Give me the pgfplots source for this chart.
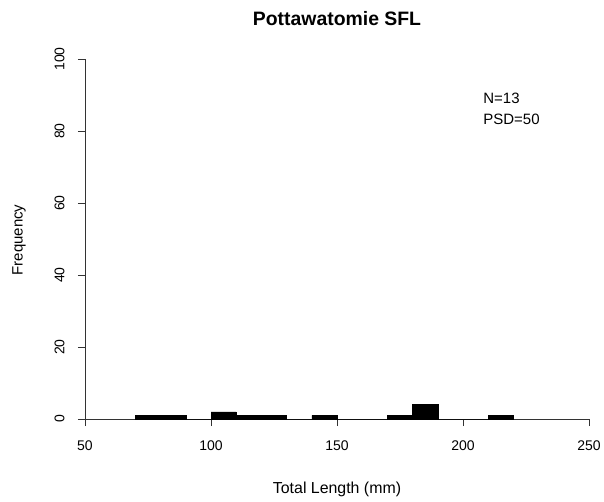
\documentclass[border=0pt]{standalone}
\usepackage{pgfplots}
\pgfplotsset{compat=1.18}
\usepackage{fontspec}
\setmainfont{Liberation Sans}
\begin{document}
\begin{tikzpicture}[x=1pt,y=1pt]
\useasboundingbox (0,0) rectangle (604,501);
\begin{axis}[
  at={(85pt,82pt)}, anchor=origin,
  scale only axis, width=504pt, height=360pt,
  xmin=50, xmax=250, ymin=0, ymax=100,
  axis x line*=bottom, axis y line*=left,
  axis line style={-, black!80, line width=0.9pt},
  xtick={50,100,...,250}, ytick={0,20,...,100},
  tick align=outside, major tick length=7pt,
  tick style={black!80, line width=0.9pt},
  /pgf/number format/assume math mode=true,
  ticklabel style={font=\fontsize{14}{16}\selectfont},
  yticklabel style={rotate=90, anchor=south, yshift=10pt},
  xticklabel style={yshift=-11pt},
  clip=false,
]
\addplot[ybar interval, fill=black, draw=black, line width=0.6pt] coordinates {
 (70,1) (80,1) (90,0) (100,2) (110,1) (120,1) (130,0) (140,1) (150,0)
 (160,0) (170,1) (180,4) (190,0) (200,0) (210,1) (220,0)};
\node[anchor=base west, font=\fontsize{15}{18}\selectfont, inner sep=0pt] at (axis cs:208,87.5) {N=13};
\node[anchor=base west, font=\fontsize{15}{18}\selectfont, inner sep=0pt] at (axis cs:208,81.9) {PSD=50};
\end{axis}
\node[font=\bfseries\fontsize{19.4}{22}\selectfont] at (337,482) {Pottawatomie SFL};
\node[font=\fontsize{15.9}{18}\selectfont] at (337,12) {Total Length (mm)};
\node[font=\fontsize{15}{18}\selectfont, rotate=90] at (19,261) {Frequency};
\end{tikzpicture}
\end{document}
